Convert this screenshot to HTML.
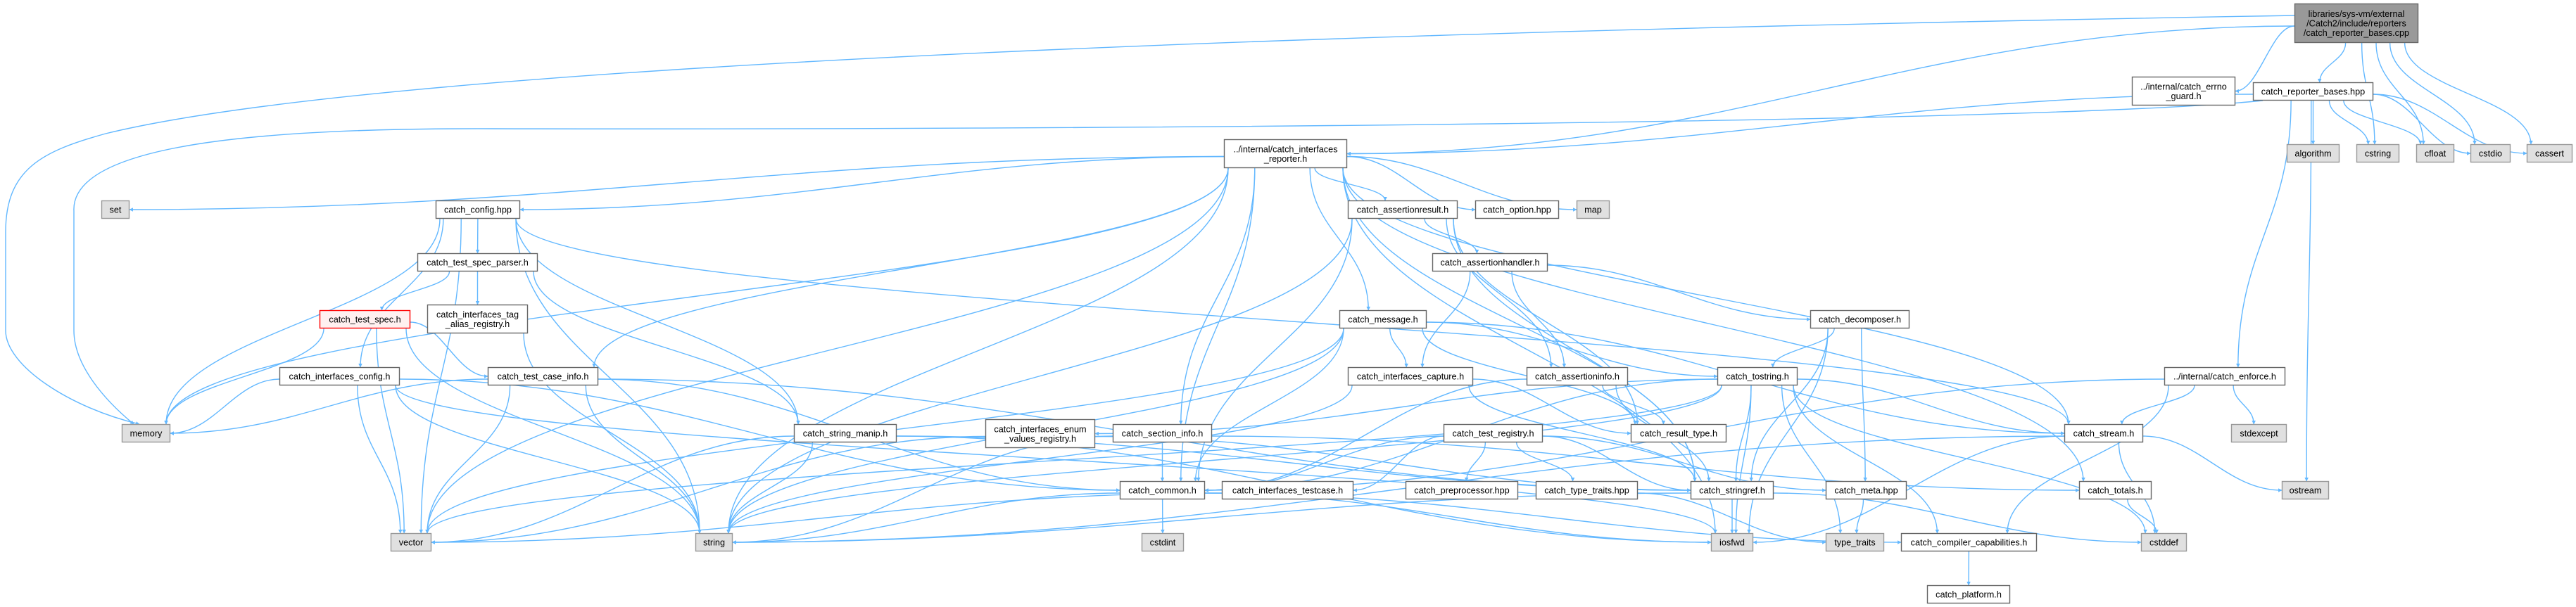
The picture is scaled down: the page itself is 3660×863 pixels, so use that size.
<!DOCTYPE html>
<html><head><meta charset="utf-8"><style>
html,body{margin:0;padding:0;background:#fff;}
svg{display:block;}
text{font-family:"Liberation Sans",Arial,sans-serif;font-size:12.7px;fill:#000;}
</style></head><body>
<svg id="g" width="3660" height="863" viewBox="0 0 3660 863" xmlns="http://www.w3.org/2000/svg">
<defs><marker id="a" viewBox="0 0 10 10" refX="9" refY="5" markerWidth="5.5" markerHeight="5.5" orient="auto" markerUnits="userSpaceOnUse"><path d="M0,0 L10,5 L0,10 z" fill="#63b8ff"/></marker></defs>
<g id="edges" fill="none" stroke="#63b8ff" stroke-width="1.4"></g>
<g id="nodes"></g>
</svg>
<div id="labels" style="display:none">
libraries/sys-vm/external /Catch2/include/reporters /catch_reporter_bases.cpp
../internal/catch_errno _guard.h catch_reporter_bases.hpp algorithm cstring cfloat cstdio cassert
../internal/catch_interfaces _reporter.h set catch_config.hpp catch_assertionresult.h catch_option.hpp map
catch_test_spec_parser.h catch_assertionhandler.h catch_test_spec.h catch_interfaces_tag _alias_registry.h catch_message.h catch_decomposer.h
catch_interfaces_config.h catch_test_case_info.h catch_interfaces_capture.h catch_assertioninfo.h catch_tostring.h ../internal/catch_enforce.h
memory catch_string_manip.h catch_interfaces_enum _values_registry.h catch_section_info.h catch_test_registry.h catch_result_type.h catch_stream.h stdexcept
catch_common.h catch_interfaces_testcase.h catch_preprocessor.hpp catch_type_traits.hpp catch_stringref.h catch_meta.hpp catch_totals.h ostream
vector string cstdint iosfwd type_traits catch_compiler_capabilities.h cstddef catch_platform.h
</div>
<script>
var N={
root:[3260,5,3436,61,["libraries/sys-vm/external","/Catch2/include/reporters","/catch_reporter_bases.cpp"],"root"],
errno:[3029,109,3176,150,["../internal/catch_errno","_guard.h"],"w"],
hpp:[3201,117,3372,143,["catch_reporter_bases.hpp"],"w"],
algorithm:[3249,205,3324,231,["algorithm"],"g"],
cstring:[3348,205,3409,231,["cstring"],"g"],
cfloat:[3433,205,3487,231,["cfloat"],"g"],
cstdio:[3510,205,3567,231,["cstdio"],"g"],
cassert:[3590,205,3655,231,["cassert"],"g"],
rep:[1739,198,1914,239,["../internal/catch_interfaces","_reporter.h"],"w"],
set:[144,285,184,311,["set"],"g"],
config:[619,285,739,311,["catch_config.hpp"],"w"],
aresult:[1915,285,2071,311,["catch_assertionresult.h"],"w"],
option:[2096,285,2215,311,["catch_option.hpp"],"w"],
map:[2240,285,2287,311,["map"],"g"],
parser:[593,360,764,386,["catch_test_spec_parser.h"],"w"],
ahandler:[2035,360,2199,386,["catch_assertionhandler.h"],"w"],
spec:[454,441,583,467,["catch_test_spec.h"],"r"],
tag:[607,433,750,474,["catch_interfaces_tag","_alias_registry.h"],"w"],
message:[1903,441,2027,467,["catch_message.h"],"w"],
decomp:[2572,441,2713,467,["catch_decomposer.h"],"w"],
iconfig:[397,522,568,548,["catch_interfaces_config.h"],"w"],
tcinfo:[693,522,850,548,["catch_test_case_info.h"],"w"],
capture:[1915,522,2093,548,["catch_interfaces_capture.h"],"w"],
ainfo:[2169,522,2313,548,["catch_assertioninfo.h"],"w"],
tostring:[2440,522,2554,548,["catch_tostring.h"],"w"],
enforce:[3075,522,3247,548,["../internal/catch_enforce.h"],"w"],
memory:[173,603,242,629,["memory"],"g"],
smanip:[1128,603,1274,629,["catch_string_manip.h"],"w"],
enumv:[1400,596,1556,637,["catch_interfaces_enum","_values_registry.h"],"w"],
section:[1581,603,1722,629,["catch_section_info.h"],"w"],
treg:[2051,603,2192,629,["catch_test_registry.h"],"w"],
rtype:[2317,603,2453,629,["catch_result_type.h"],"w"],
stream:[2933,603,3045,629,["catch_stream.h"],"w"],
stdexcept:[3170,603,3249,629,["stdexcept"],"g"],
common:[1591,684,1712,710,["catch_common.h"],"w"],
itc:[1736,684,1923,710,["catch_interfaces_testcase.h"],"w"],
prep:[1997,684,2157,710,["catch_preprocessor.hpp"],"w"],
ttr:[2182,684,2327,710,["catch_type_traits.hpp"],"w"],
sref:[2402,684,2520,710,["catch_stringref.h"],"w"],
meta:[2594,684,2709,710,["catch_meta.hpp"],"w"],
totals:[2954,684,3057,710,["catch_totals.h"],"w"],
ostream:[3242,684,3309,710,["ostream"],"g"],
vector:[555,758,613,784,["vector"],"g"],
string:[988,758,1041,784,["string"],"g"],
cstdint:[1622,758,1682,784,["cstdint"],"g"],
iosfwd:[2431,758,2491,784,["iosfwd"],"g"],
tt:[2594,758,2677,784,["type_traits"],"g"],
ccap:[2701,758,2894,784,["catch_compiler_capabilities.h"],"w"],
cstddef:[3042,758,3107,784,["cstddef"],"g"],
plat:[2738,832,2856,858,["catch_platform.h"],"w"]
};
var E=[
"root errno","root hpp","root rep","root cstring","root cfloat","root cstdio","root cassert",
"hpp rep","hpp algorithm","hpp cstring","hpp cfloat","hpp cstdio","hpp cassert","hpp ostream","hpp enforce",
"rep set","rep config","rep memory","rep string","rep tcinfo","rep section","rep common","rep aresult","rep option","rep map","rep message","rep stream","rep totals","rep iosfwd","rep sref","rep vector",
"config memory","config vector","config string","config parser","config iconfig","config stream","config smanip",
"parser spec","parser tag","parser smanip",
"spec memory","spec vector","spec string","spec tcinfo",
"tag string",
"iconfig memory","iconfig vector","iconfig string","iconfig common","iconfig iosfwd",
"tcinfo memory","tcinfo vector","tcinfo string","tcinfo common","tcinfo sref",
"smanip vector","smanip string","smanip iosfwd","smanip sref",
"aresult string","aresult common","aresult ahandler","aresult ainfo","aresult rtype","aresult sref",
"ahandler capture","ahandler ainfo","ahandler decomp",
"message vector","message string","message capture","message common","message rtype","message tostring","message stream",
"capture string","capture sref","capture rtype",
"ainfo common","ainfo rtype","ainfo sref",
"decomp tostring","decomp sref","decomp meta","decomp iosfwd",
"tostring vector","tostring string","tostring common","tostring sref","tostring stream","tostring tt","tostring ccap","tostring cstddef","tostring iosfwd","tostring enumv",
"enforce stream","enforce stdexcept","enforce ccap","enforce common",
"stream iosfwd","stream cstddef","stream ostream","stream string",
"enumv vector","enumv sref",
"section string","section common","section totals",
"treg common","treg itc","treg prep","treg ttr","treg sref","treg meta",
"common string","common cstdint","common iosfwd","common ccap",
"itc vector",
"sref iosfwd","sref string","sref cstddef",
"meta tt","ttr tt","totals cstddef","ccap plat"
];
var NS="http://www.w3.org/2000/svg";
var eg=document.getElementById("edges"),ng=document.getElementById("nodes");
function mk(t,at,p){var e=document.createElementNS(NS,t);for(var k in at)e.setAttribute(k,at[k]);p.appendChild(e);return e;}
function cl(v,a,b){return Math.max(a,Math.min(b,v));}
mk("path",{d:"M3260,22 C2200,40 600,80 150,190 C60,215 8,240 8,330 L8,470 C8,520 100,580 198,603","marker-end":"url(#a)"},eg);
mk("path",{d:"M3215,143 C2900,175 1500,185 700,183 C400,182 100,200 105,300 L105,470 C105,520 150,570 190,603","marker-end":"url(#a)"},eg);
E.forEach(function(s){var p=s.split(" "),a=N[p[0]],b=N[p[1]];
 var ac=(a[0]+a[2])/2,bc=(b[0]+b[2])/2,d;
 if(b[1]>=a[3]-2){
  var x1=cl(ac+(bc-ac)*0.25,a[0]+6,a[2]-6),y1=a[3];
  var x2=cl(bc+(ac-bc)*0.15,b[0]+6,b[2]-6),y2=b[1];
  var dy=y2-y1;
  if(Math.abs(bc-ac)>4*dy && dy<200){
    x2=(bc>ac)?b[0]:b[2];y2=(b[1]+b[3])/2;
    x1=(bc>ac)?a[2]:a[0];y1=(a[1]+a[3])/2+4;
    d="M"+x1+","+y1+" C"+(x1+(x2-x1)*0.4)+","+y1+" "+(x1+(x2-x1)*0.6)+","+y2+" "+x2+","+y2;
  } else {
    d="M"+x1+","+y1+" C"+x1+","+(y1+dy*0.45)+" "+x2+","+(y2-dy*0.45)+" "+x2+","+y2;
  }
 } else {
  var x1=(bc>ac)?a[2]:a[0],y1=(a[1]+a[3])/2,x2=(bc>ac)?b[0]:b[2],y2=(b[1]+b[3])/2;
  d="M"+x1+","+y1+" C"+(x1+(x2-x1)*0.4)+","+y1+" "+(x1+(x2-x1)*0.6)+","+y2+" "+x2+","+y2;
 }
 mk("path",{d:d,"marker-end":"url(#a)"},eg);
});
for(var k in N){var n=N[k],f="#fff",st="#666";
 if(n[5]=="g"){f="#e0e0e0";st="#999";}else if(n[5]=="root"){f="#999";st="#666";}else if(n[5]=="r"){f="#fff0f0";st="#ff0000";}
 mk("rect",{x:n[0]+0.5,y:n[1]+0.5,width:n[2]-n[0]-1,height:n[3]-n[1]-1,fill:f,stroke:st,"stroke-width":1.4},ng);
 var L=n[4],cy=(n[1]+n[3])/2,lh=13.5;
 L.forEach(function(t,i){var tx=mk("text",{x:(n[0]+n[2])/2,y:cy+(i-(L.length-1)/2)*lh+4.5,"text-anchor":"middle"},ng);tx.textContent=t;});
}
</script>
</body></html>
